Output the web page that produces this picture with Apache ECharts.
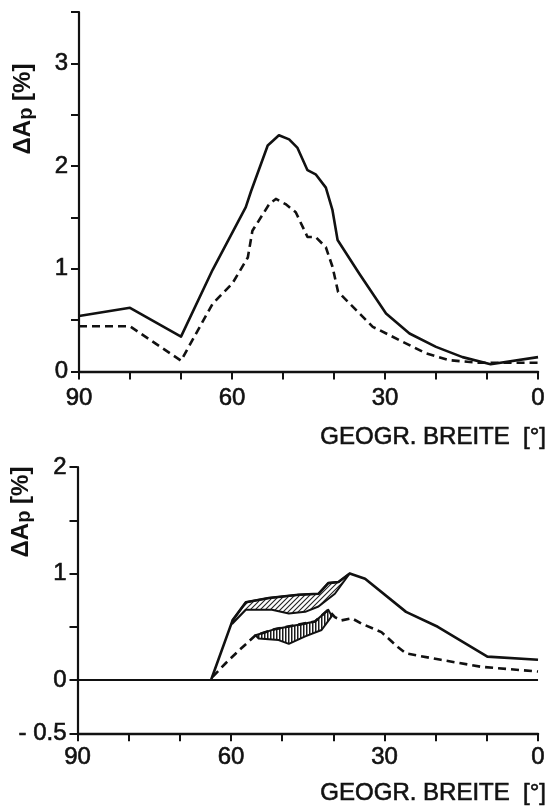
<!DOCTYPE html>
<html>
<head>
<meta charset="utf-8">
<script src="https://cdn.jsdelivr.net/npm/echarts@6/dist/echarts.min.js"></script>
<style>
  html, body { margin: 0; padding: 0; background: #fff; }
  #chart { width: 548px; height: 807px; }
</style>
</head>
<body>
<div id="chart"></div>
<script>
// ---- upper panel: ΔAp [%] versus geographic latitude [°] ----
const upperSolid = [
  [90, 0.54], [80, 0.62], [70, 0.34], [63.8, 0.99], [57.3, 1.60], [56.3, 1.75],
  [53, 2.20], [50.8, 2.30], [48.8, 2.26], [47.2, 2.18], [45.2, 1.96], [43.6, 1.92],
  [41.6, 1.79], [40.3, 1.57], [39.3, 1.28], [35, 0.95], [29.8, 0.565], [25.2, 0.37],
  [20, 0.24], [14.8, 0.14], [9.3, 0.07], [0, 0.14]
];
const upperDashed = [
  [90, 0.44], [80, 0.44], [70, 0.105], [63.8, 0.66], [59.9, 0.86], [56.9, 1.11],
  [56, 1.37], [52.7, 1.63], [51.4, 1.68], [49.5, 1.63], [47.5, 1.55], [45.2, 1.31],
  [43.6, 1.31], [41.6, 1.21], [40.3, 1.02], [39.2, 0.775], [35.7, 0.60], [32.4, 0.435],
  [27.2, 0.306], [22, 0.177], [17.4, 0.11], [11.6, 0.085], [0, 0.085]
];

// ---- lower panel ----
const lowerSolid = [
  [63.9, 0], [59.7, 0.56], [57.1, 0.73], [52.6, 0.77], [46.8, 0.80], [42.9, 0.81],
  [41.0, 0.91], [39.0, 0.92], [36.8, 1.00], [33.8, 0.95], [25.8, 0.64], [19.6, 0.50],
  [9.9, 0.22], [0, 0.19]
];
const lowerDashed = [
  [63.6, 0.03], [61, 0.16], [58.4, 0.28], [55.2, 0.42], [51.3, 0.48], [46.8, 0.52],
  [43.6, 0.55], [41, 0.66], [39.7, 0.59], [38.4, 0.56], [36.4, 0.58], [34.5, 0.53],
  [30.6, 0.45], [27.4, 0.31], [25.8, 0.25], [19, 0.19], [11.2, 0.125], [0, 0.08]
];
// hatched range under the solid curve
const solidBandUpper = [
  [59.7, 0.56], [57.1, 0.73], [52.6, 0.77], [46.8, 0.80], [42.9, 0.81],
  [41.0, 0.91], [39.0, 0.92], [36.8, 1.00]
];
const solidBandLower = [
  [59.7, 0.53], [57.1, 0.66], [52, 0.66], [48.7, 0.625], [45.5, 0.64],
  [42.9, 0.69], [39.7, 0.81], [36.8, 1.00]
];
// hatched range along the dashed curve
const dashedBandUpper = [
  [55.2, 0.42], [51.3, 0.48], [46.8, 0.52], [43.6, 0.55], [41, 0.66], [40.3, 0.60]
];
const dashedBandLower = [
  [55.2, 0.42], [54.6, 0.39], [50.7, 0.375], [48.7, 0.34], [45.5, 0.41],
  [42.3, 0.47], [40.3, 0.60]
];

const latLabels = [0, 30, 60, 90];
const upperYLabels = [0, 1, 2, 3];
const lowerYLabels = [-0.5, 0, 1, 2];

const INK = '#111';
const FONT = "'Liberation Sans', Arial, sans-serif";

// hatch tiles for the shaded ranges
function diagonalTile() {
  const s = 5, c = document.createElement('canvas');
  c.width = s; c.height = s;
  const g = c.getContext('2d');
  g.fillStyle = '#fff'; g.fillRect(0, 0, s, s);
  g.strokeStyle = '#222'; g.lineWidth = 1.1;
  g.beginPath();
  g.moveTo(-1, s + 1); g.lineTo(s + 1, -1);
  g.moveTo(-1, 1); g.lineTo(1, -1);
  g.moveTo(s - 1, s + 1); g.lineTo(s + 1, s - 1);
  g.stroke();
  return c;
}
function verticalTile() {
  const c = document.createElement('canvas');
  c.width = 3; c.height = 4;
  const g = c.getContext('2d');
  g.fillStyle = '#fff'; g.fillRect(0, 0, 3, 4);
  g.fillStyle = '#1a1a1a'; g.fillRect(0, 0, 1.5, 4);
  return c;
}

function band(upper, lower, tile, gi) {
  return {
    type: 'custom', xAxisIndex: gi, yAxisIndex: gi, silent: true, z: 3,
    data: [upper[0]],
    renderItem: function (params, api) {
      const pts = upper.concat(lower.slice().reverse()).map(p => api.coord(p));
      return {
        type: 'polygon',
        shape: { points: pts },
        style: {
          fill: { image: tile, repeat: 'repeat' },
          stroke: INK, lineWidth: 2, lineJoin: 'round'
        }
      };
    }
  };
}

function curve(data, gi, dashed) {
  return {
    type: 'line', xAxisIndex: gi, yAxisIndex: gi, data: data,
    showSymbol: false, symbol: 'none', silent: true, z: 4,
    lineStyle: { color: INK, width: 2.6, type: dashed ? [8, 5] : 'solid', join: 'round' }
  };
}

// slightly heavier print for the tick numbers
const labelInk = { color: INK, fontFamily: FONT, fontSize: 24, textBorderColor: INK, textBorderWidth: 0.6 };

function latAxis(gi, margin) {
  return {
    type: 'value', gridIndex: gi, inverse: true, min: 0, max: 90, interval: 10,
    position: 'bottom',
    axisLine: { onZero: false, lineStyle: { color: INK, width: 2.4 } },
    axisTick: { show: true, length: 8, lineStyle: { color: INK, width: 2 } },
    splitLine: { show: false },
    axisLabel: Object.assign({
      margin: margin,
      formatter: v => latLabels.indexOf(v) >= 0 ? String(v) : ''
    }, labelInk)
  };
}

function valAxis(gi, min, max, labels, fmt) {
  return {
    type: 'value', gridIndex: gi, min: min, max: max, interval: 0.5,
    position: 'left',
    axisLine: { show: true, onZero: false, lineStyle: { color: INK, width: 2.2 } },
    axisTick: { show: true, length: 8, lineStyle: { color: INK, width: 2 } },
    splitLine: { show: false },
    axisLabel: Object.assign({
      margin: 11,
      formatter: v => labels.some(l => Math.abs(l - v) < 1e-9) ? fmt(v) : ''
    }, labelInk)
  };
}

const chart = echarts.init(document.getElementById('chart'), null, { renderer: 'canvas' });

const nameStyle = {
  fill: INK, font: "bold 24px " + FONT,
  align: 'center', verticalAlign: 'middle'
};
const nameRich = {
  a: { font: "bold 24px " + FONT },
  s: { font: "bold 20px " + FONT, padding: [6, 0, 0, 0] }
};
const xNameStyle = {
  text: 'GEOGR. BREITE  [°]', fill: INK, font: "24px " + FONT,
  stroke: INK, lineWidth: 0.6, align: 'right', verticalAlign: 'middle'
};

chart.setOption({
  animation: false,
  backgroundColor: '#fff',
  grid: [
    { left: 79, right: 8, top: 12, height: 359.5 },
    { left: 77.5, right: 7, top: 467, height: 266.3 }
  ],
  xAxis: [latAxis(0, 15), latAxis(1, 12)],
  yAxis: [
    valAxis(0, 0, 3.5, upperYLabels, v => String(v)),
    valAxis(1, -0.5, 2, lowerYLabels, v => v < 0 ? '- ' + Math.abs(v) : String(v))
  ],
  series: [
    curve(upperSolid, 0, false),
    curve(upperDashed, 0, true),
    band(solidBandUpper, solidBandLower, diagonalTile(), 1),
    band(dashedBandUpper, dashedBandLower, verticalTile(), 1),
    Object.assign(curve(lowerSolid, 1, false), {
      markLine: {
        silent: true, symbol: 'none', label: { show: false },
        lineStyle: { color: INK, width: 2.2, type: 'solid' },
        data: [{ yAxis: 0 }]
      }
    }),
    curve(lowerDashed, 1, true)
  ],
  graphic: [
    {
      type: 'text', x: 23, y: 109, rotation: Math.PI / 2,
      style: Object.assign({}, nameStyle, { text: '{a|ΔA}{s|p}{a| [%]}', rich: nameRich })
    },
    {
      type: 'text', x: 21, y: 512, rotation: Math.PI / 2,
      style: Object.assign({}, nameStyle, { text: '{a|ΔA}{s|p}{a| [%]}', rich: nameRich })
    },
    { type: 'text', x: 546, y: 437, style: Object.assign({}, xNameStyle) },
    { type: 'text', x: 546, y: 793, style: Object.assign({}, xNameStyle) }
  ]
});
</script>
</body>
</html>
